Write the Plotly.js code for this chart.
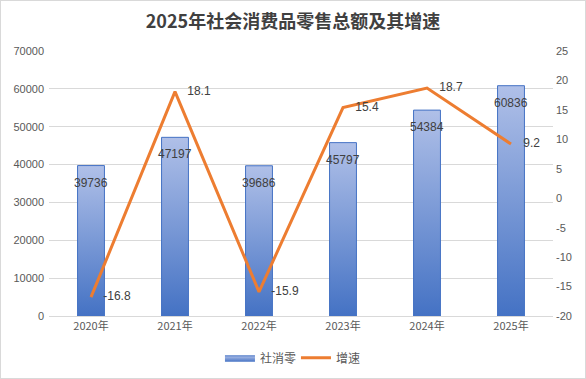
<!DOCTYPE html>
<html><head><meta charset="utf-8">
<script src="https://cdn.plot.ly/plotly-3.0.1.min.js"></script>
<style>
body{margin:0;padding:0;background:#fff;}
#wrap{position:relative;width:586px;height:379px;}
#chart{width:586px;height:379px;}
#border{position:absolute;left:0;top:0;width:584px;height:377px;border:1px solid #d9d9d9;pointer-events:none;}
</style>
</head><body>
<div id="wrap"><div id="chart"></div><div id="border"></div></div>
<script>
const years = ['2020年','2021年','2022年','2023年','2024年','2025年'];
const retail = [39736, 47197, 39686, 45797, 54384, 60836];
const growth = [-16.8, 18.1, -15.9, 15.4, 18.7, 9.2];
const leftTicks = [0,10000,20000,30000,40000,50000,60000,70000];
const rightTicks = [-20,-15,-10,-5,0,5,10,15,20,25];

const halfW = 0.16;
const traces = [];
retail.forEach((v, i) => {
  traces.push({
    type: 'scatter',
    x: [i - halfW, i - halfW, i + halfW, i + halfW, i - halfW],
    y: [0, v, v, 0, 0],
    mode: 'lines',
    fill: 'toself',
    fillgradient: {type: 'vertical', colorscale: [[0, '#4472c4'], [1, '#b0c0e8']]},
    line: {color: '#4472c4', width: 1},
    name: '社消零',
    legendgroup: 'bar',
    showlegend: i === 0,
    hoverinfo: 'skip',
    xaxis: 'x', yaxis: 'y'
  });
});
traces.push({
  type: 'scatter',
  x: years.map((_, i) => i),
  y: growth,
  yaxis: 'y2',
  mode: 'lines+markers+text',
  name: '增速',
  line: {color: '#ed7d31', width: 3},
  marker: {size: 18, color: 'rgba(0,0,0,0)'},
  text: growth.map(v => String(v)),
  textposition: 'middle right',
  textfont: {family: 'Liberation Sans, Arial, sans-serif', size: 12, color: '#404040'},
  cliponaxis: false
});

const annotations = retail.map((v, i) => ({
  x: i, y: v, xref: 'x', yref: 'y',
  text: String(v), showarrow: false,
  yanchor: 'top', yshift: -8,
  font: {family: 'Liberation Sans, Arial, sans-serif', size: 12, color: '#404040'}
}));

const layout = {
  width: 586, height: 379,
  margin: {l: 49, r: 33, t: 51, b: 63, autoexpand: false},
  paper_bgcolor: '#fff', plot_bgcolor: '#fff',
  title: {text: '2025年社会消费品零售总额及其增速', x: 0.5, xanchor: 'center', y: 0.942, yanchor: 'middle',
    font: {family: 'Noto Sans CJK SC, sans-serif', size: 18, color: '#404040', weight: 'bold'}},
  xaxis: {
    range: [-0.5, 5.5], tickvals: years.map((_, i) => i), ticktext: years,
    showgrid: false, zeroline: false, showline: true, linecolor: '#d9d9d9', linewidth: 1,
    ticks: '', tickfont: {family: 'Noto Sans CJK SC, sans-serif', size: 11, color: '#595959'}, fixedrange: true
  },
  yaxis: {
    range: [0, 70000], tickvals: leftTicks, ticktext: leftTicks.map(String),
    showgrid: true, gridcolor: '#d9d9d9', gridwidth: 1, zeroline: false, showline: false,
    ticks: '', ticklabelstandoff: 4,
    tickfont: {family: 'Liberation Sans, Arial, sans-serif', size: 11, color: '#595959'}
  },
  yaxis2: {
    range: [-20, 25], tickvals: rightTicks, ticktext: rightTicks.map(String),
    overlaying: 'y', side: 'right', showgrid: false, zeroline: false, showline: false,
    ticks: '', ticklabelstandoff: 2,
    tickfont: {family: 'Liberation Sans, Arial, sans-serif', size: 11, color: '#595959'}
  },
  legend: {orientation: 'h', x: 0.49, xanchor: 'center', y: -0.158, yanchor: 'middle',
    entrywidth: 31, entrywidthmode: 'pixels', itemwidth: 30,
    font: {family: 'Noto Sans CJK SC, sans-serif', size: 12, color: '#595959'}, traceorder: 'normal'},
  annotations: annotations,
  showlegend: true
};

Plotly.newPlot('chart', traces, layout, {displayModeBar: false, staticPlot: true});
</script>
</body></html>
